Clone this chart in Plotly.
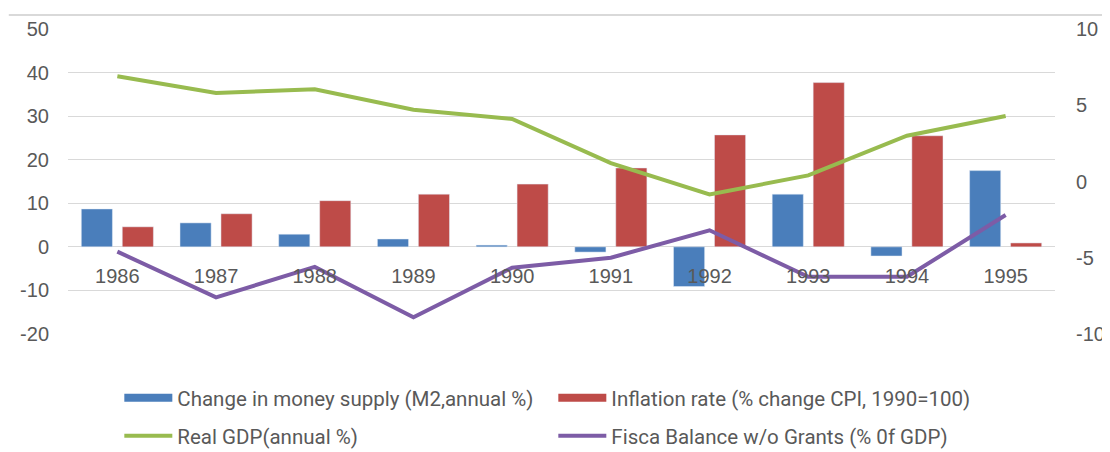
import plotly.graph_objects as go

years = ["1986", "1987", "1988", "1989", "1990", "1991", "1992", "1993", "1994", "1995"]
money_supply = [8.7, 5.5, 2.9, 1.8, 0.4, -1.2, -9.1, 12.1, -2.1, 17.5]
inflation = [4.6, 7.6, 10.6, 12.1, 14.4, 18.1, 25.7, 37.7, 25.5, 0.9]
real_gdp = [6.9, 5.8, 6.05, 4.7, 4.1, 1.2, -0.85, 0.4, 3.0, 4.3]
fiscal_balance = [-4.6, -7.6, -5.6, -8.9, -5.65, -5.0, -3.2, -6.25, -6.25, -2.2]

left_ticks = [-20, -10, 0, 10, 20, 30, 40, 50]
right_ticks = [-10, -5, 0, 5, 10]

BLUE, RED, GREEN, PURPLE = "#4A7EBB", "#BE4B48", "#98BB4F", "#7D5CA6"
M2_NAME = "Change in money supply (M2,annual %)"
CPI_NAME = "Inflation rate (% change CPI, 1990=100)"

TICK_FONT = dict(family="Liberation Sans, Arial, sans-serif", size=20, color="#595959")
LEG_FONT = dict(family="Roboto, Liberation Sans, sans-serif", size=20.5, color="#595959")

fig = go.Figure()
fig.add_trace(go.Bar(x=years, y=money_supply, name=M2_NAME, marker_color=BLUE,
                     legendgroup="m2", showlegend=False))
fig.add_trace(go.Bar(x=years, y=inflation, name=CPI_NAME, marker_color=RED,
                     legendgroup="cpi", showlegend=False))
# legend stand-ins so the bar swatches come out as wide flat blocks like the original
fig.add_trace(go.Scatter(x=[None], y=[None], mode="lines", name=M2_NAME, line=dict(color=BLUE, width=8),
                         legendgroup="m2", legend="legend"))
fig.add_trace(go.Scatter(x=[None], y=[None], mode="lines", name=CPI_NAME, line=dict(color=RED, width=8),
                         legendgroup="cpi", legend="legend"))
fig.add_trace(go.Scatter(x=years, y=real_gdp, name="Real GDP(annual %)", mode="lines",
                         line=dict(color=GREEN, width=4), yaxis="y2", legend="legend2"))
fig.add_trace(go.Scatter(x=years, y=fiscal_balance, name="Fisca Balance w/o Grants (% 0f GDP)", mode="lines",
                         line=dict(color=PURPLE, width=4), yaxis="y2", legend="legend2"))

leg = dict(orientation="h", x=0.052, xanchor="left", yref="container", yanchor="middle",
           font=LEG_FONT, entrywidth=371, entrywidthmode="pixels", traceorder="normal", itemwidth=48)

# page body has an 8px margin, so the figure is shrunk and margins shifted to compensate
fig.update_layout(
    width=1102, height=444,
    margin=dict(l=60, r=55, t=21, b=118),
    plot_bgcolor="white", paper_bgcolor="white",
    bargap=0.17, bargroupgap=0.24,
    xaxis=dict(anchor="free", position=2 / 7, showline=False, showgrid=False, automargin=False,
               tickfont=TICK_FONT, ticklabelstandoff=15),
    yaxis=dict(range=[-20, 50], tickvals=left_ticks, ticktext=[str(v) for v in left_ticks],
               showgrid=True, gridcolor="#D9D9D9", gridwidth=1, automargin=False,
               zeroline=True, zerolinecolor="#D9D9D9", zerolinewidth=1,
               tickfont=TICK_FONT, ticklabelstandoff=18),
    yaxis2=dict(range=[-10, 10], tickvals=right_ticks, ticktext=[str(v) for v in right_ticks],
                overlaying="y", side="right", showgrid=False, automargin=False,
                zeroline=False, tickfont=TICK_FONT, ticklabelstandoff=20),
    legend=dict(leg, y=0.122),
    legend2=dict(leg, y=0.036),
    shapes=[dict(type="line", xref="paper", yref="paper", x0=-0.06, x1=1.06, y0=1.046, y1=1.046,
                 line=dict(color="#D9D9D9", width=2))],
)

fig.write_html("out.html")
